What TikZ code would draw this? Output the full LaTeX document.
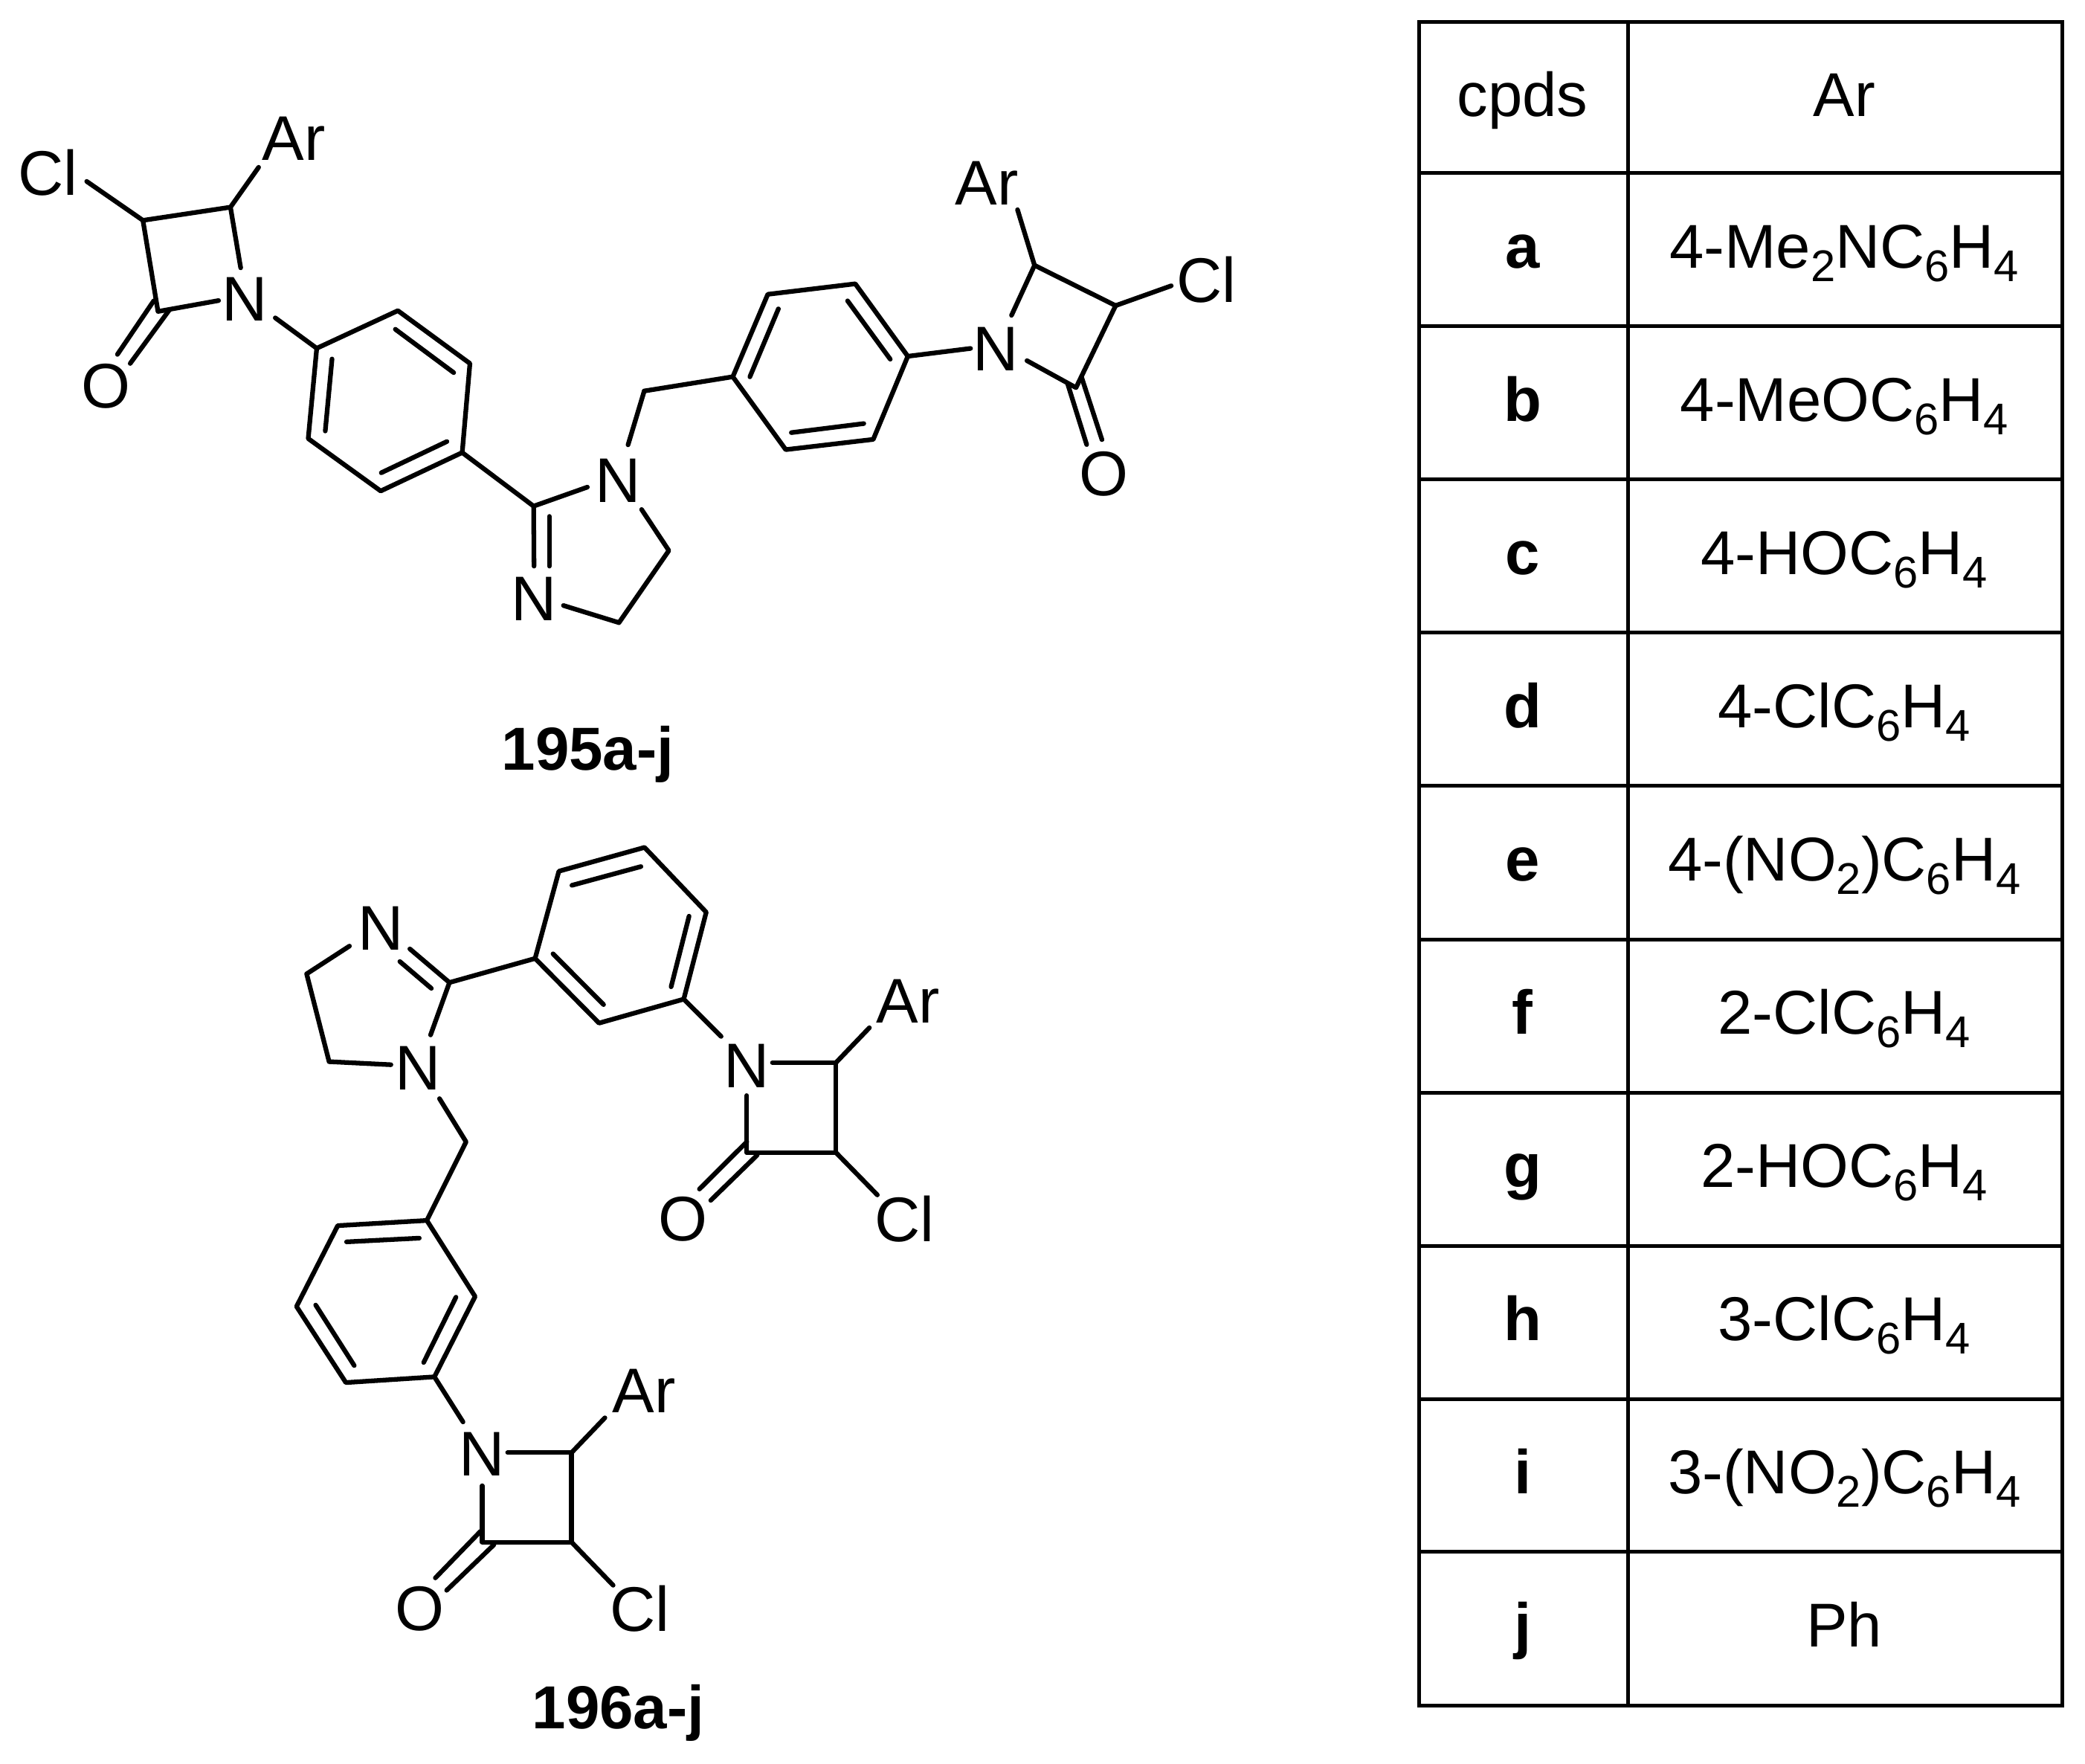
\documentclass[tikz,border=0pt]{standalone}
\usepackage{fontspec}
\setmainfont{Liberation Sans}
\tikzset{
  bond/.style={line width=2pt,line cap=round,line join=round},
  atom/.style={inner sep=0pt,font=\fontsize{27}{30}\selectfont},
  cmpd/.style={inner sep=0pt,anchor=base,font=\fontsize{26}{30}\selectfont\bfseries},
  rule/.style={line width=1.6pt,line cap=rect},
  cell/.style={inner sep=0pt,anchor=base,font=\fontsize{26.5}{30}\selectfont},
  lett/.style={cell,font=\fontsize{26.5}{30}\selectfont\bfseries},
}
\newcommand{\subdig}[1]{\raisebox{-5.7pt}{\fontsize{19}{20}\selectfont #1}}
\begin{document}
\begin{tikzpicture}[x=0.02cm,y=-0.02cm]
\path[fill=white,use as bounding box] (0,0) rectangle (1568,1325.9);
% ---------- 195, left lactam
\node[atom] (aCl) at (36,130) {Cl};
\node[atom] (aAr) at (221,104) {Ar};
\node[atom] (aN) at (184,224.8) {N};
\node[atom] (aO) at (79.6,290.4) {O};
\coordinate (a3) at (107.5,165.7);
\coordinate (a4) at (173.3,155.8);
\coordinate (a2) at (118.8,234.2);
\coordinate (aCle) at (65.2,136.4);
\coordinate (aAre) at (194.5,125.8);
\coordinate (aN4) at (181,201.4);
\coordinate (aN2) at (164.4,226);
\coordinate (aO1s) at (115.6,226.2);
\coordinate (aO1e) at (88.3,266.5);
\coordinate (aO2s) at (127.1,233.4);
\coordinate (aO2e) at (97.9,273.3);
\coordinate (aNb) at (207,239);
\draw[bond] (aCle) -- (a3) -- (a4) -- (aAre);
\draw[bond] (a4) -- (aN4);
\draw[bond] (a3) -- (a2) -- (aN2);
\draw[bond] (aO1s) -- (aO1e);
\draw[bond] (aO2s) -- (aO2e);
% ring A
\coordinate (r1) at (238.2,261.9);
\coordinate (r2) at (299.2,233.6);
\coordinate (r3) at (353.4,273.3);
\coordinate (r4) at (347.6,340.3);
\coordinate (r5) at (286.3,369.2);
\coordinate (r6) at (231.8,329.8);
\coordinate (r2i) at (297.3,247.6);
\coordinate (r3i) at (341.2,280.2);
\coordinate (r4i) at (336.1,332);
\coordinate (r5i) at (286.7,355.5);
\coordinate (r1i) at (249.7,269.9);
\coordinate (r6i) at (244.6,324.1);
\draw[bond] (aNb) -- (r1);
\draw[bond] (r1) -- (r2) -- (r3) -- (r4) -- (r5) -- (r6) -- cycle;
\draw[bond] (r2i) -- (r3i);
\draw[bond] (r4i) -- (r5i);
\draw[bond] (r1i) -- (r6i);
% imidazoline
\node[atom] (iN1) at (464.5,361.2) {N};
\node[atom] (iN3) at (401.3,450.2) {N};
\coordinate (i2) at (401.3,380.6);
\coordinate (i4) at (465.5,468.2);
\coordinate (i5) at (503,414);
\coordinate (iN1a) at (441.7,366.3);
\coordinate (iN1b) at (482.5,383.1);
\coordinate (iN1c) at (472.3,334.5);
\coordinate (iN3a) at (401.6,425.7);
\coordinate (i2b) at (413.1,388.3);
\coordinate (iN3b) at (413.1,425.7);
\coordinate (iN3c) at (423.7,455.3);
\coordinate (ich) at (484.5,294);
\draw[bond] (r4) -- (i2) -- (iN1a);
\draw[bond] (i2) -- (iN3a);
\draw[bond] (i2b) -- (iN3b);
\draw[bond] (iN3c) -- (i4) -- (i5) -- (iN1b);
\draw[bond] (iN1c) -- (ich);
% ring B
\coordinate (s1) at (551.1,283.3);
\coordinate (s2) at (577.4,221.3);
\coordinate (s3) at (643.2,213.4);
\coordinate (s4) at (682.7,267.9);
\coordinate (s5) at (656.7,330.4);
\coordinate (s6) at (590.9,338.1);
\coordinate (s2i) at (585.4,232.2);
\coordinate (s1i) at (563.9,283.4);
\coordinate (s3i) at (637.4,226.2);
\coordinate (s4i) at (669.5,270.1);
\coordinate (s5i) at (649.6,318.5);
\coordinate (s6i) at (595.1,325.3);
\draw[bond] (ich) -- (s1);
\draw[bond] (s1) -- (s2) -- (s3) -- (s4) -- (s5) -- (s6) -- cycle;
\draw[bond] (s2i) -- (s1i);
\draw[bond] (s3i) -- (s4i);
\draw[bond] (s5i) -- (s6i);
% right lactam
\node[atom] (bN) at (749.1,262.2) {N};
\node[atom] (bCl) at (907.1,210.2) {Cl};
\node[atom] (bAr) at (742.1,137.8) {Ar};
\node[atom] (bO) at (830,356.1) {O};
\coordinate (b4) at (778,199.5);
\coordinate (b3) at (839,229.8);
\coordinate (b2) at (809.2,291.5);
\coordinate (bNa) at (729.9,262);
\coordinate (bN4) at (760.7,237.1);
\coordinate (bN2) at (772.3,271.2);
\coordinate (bCle) at (880.8,214.9);
\coordinate (bAre) at (765.2,157.7);
\coordinate (bO1s) at (802.8,288.3);
\coordinate (bO1e) at (817.2,334.3);
\coordinate (bO2s) at (813.3,283.4);
\coordinate (bO2e) at (828.7,330.6);
\draw[bond] (s4) -- (bNa);
\draw[bond] (bN4) -- (b4) -- (b3) -- (b2) -- (bN2);
\draw[bond] (b4) -- (bAre);
\draw[bond] (b3) -- (bCle);
\draw[bond] (bO1s) -- (bO1e);
\draw[bond] (bO2s) -- (bO2e);
\node[cmpd] (l195) at (442,579) {195a-j};
% ---------- 196, imidazoline
\node[atom] (jN1) at (314.3,803.4) {N};
\node[atom] (jN3) at (286.2,698.2) {N};
\coordinate (j2) at (338,738.8);
\coordinate (j5) at (230.6,732.3);
\coordinate (j4) at (247.5,798.3);
\coordinate (jN3a) at (262.8,711.4);
\coordinate (jN1a) at (294,800.6);
\coordinate (jN3b) at (308.2,713.5);
\coordinate (jN3c) at (300.7,723);
\coordinate (j2c) at (324.4,743.2);
\coordinate (jN1b) at (323.8,778.2);
\coordinate (jN1c) at (330.5,826.1);
\coordinate (jch) at (350.5,858.6);
\draw[bond] (jN3a) -- (j5) -- (j4) -- (jN1a);
\draw[bond] (jN3b) -- (j2) -- (jN1b);
\draw[bond] (jN3c) -- (j2c);
% ring C
\coordinate (c1) at (402.4,720.7);
\coordinate (c2) at (420.3,655.1);
\coordinate (c3) at (484.7,637.2);
\coordinate (c4) at (531.1,685.9);
\coordinate (c5) at (514.2,751.3);
\coordinate (c6) at (450.5,769.3);
\coordinate (c2i) at (430.1,665.7);
\coordinate (c3i) at (482,651.6);
\coordinate (c4i) at (518.2,688.9);
\coordinate (c5i) at (504.7,742);
\coordinate (c1i) at (415.9,717.2);
\coordinate (c6i) at (453.9,755.4);
\draw[bond] (j2) -- (c1);
\draw[bond] (c1) -- (c2) -- (c3) -- (c4) -- (c5) -- (c6) -- cycle;
\draw[bond] (c2i) -- (c3i);
\draw[bond] (c4i) -- (c5i);
\draw[bond] (c1i) -- (c6i);
% upper lactam of 196
\node[atom] (eN) at (561.6,801.3) {N};
\node[atom] (eAr) at (682.9,753.1) {Ar};
\node[atom] (eCl) at (680.2,916.5) {Cl};
\node[atom] (eO) at (513.5,916.5) {O};
\coordinate (e4) at (628.7,799);
\coordinate (e3) at (628.7,866.7);
\coordinate (e2) at (561.6,866.7);
\coordinate (eNa) at (542.3,779.3);
\coordinate (eN4) at (580.9,799);
\coordinate (eN2) at (561.6,823.8);
\coordinate (eAre) at (653.8,772.8);
\coordinate (eCle) at (659.8,898.5);
\coordinate (eO1s) at (561.6,858.6);
\coordinate (eO1e) at (526,894.1);
\coordinate (eO2s) at (569.4,868.6);
\coordinate (eO2e) at (534.5,902.6);
\draw[bond] (c5) -- (eNa);
\draw[bond] (eN4) -- (e4) -- (e3) -- (e2) -- (eN2);
\draw[bond] (e4) -- (eAre);
\draw[bond] (e3) -- (eCle);
\draw[bond] (eO1s) -- (eO1e);
\draw[bond] (eO2s) -- (eO2e);
% ring D
\coordinate (d1) at (321,917.7);
\coordinate (d2) at (254,921.6);
\coordinate (d3) at (223,982.4);
\coordinate (d4) at (260.1,1039.6);
\coordinate (d5) at (326.7,1035.3);
\coordinate (d6) at (357.3,974.9);
\coordinate (d2i) at (260.6,933.8);
\coordinate (d1i) at (315.3,931);
\coordinate (d6i) at (342.9,975.4);
\coordinate (d5i) at (318.6,1024.5);
\coordinate (d3i) at (237.4,981.3);
\coordinate (d4i) at (266.4,1026.8);
\draw[bond] (jN1c) -- (jch) -- (d1);
\draw[bond] (d1) -- (d2) -- (d3) -- (d4) -- (d5) -- (d6) -- cycle;
\draw[bond] (d2i) -- (d1i);
\draw[bond] (d6i) -- (d5i);
\draw[bond] (d3i) -- (d4i);
% lower lactam of 196
\node[atom] (fN) at (362.6,1093.6) {N};
\node[atom] (fAr) at (484.3,1046) {Ar};
\node[atom] (fCl) at (481.3,1209.9) {Cl};
\node[atom] (fO) at (315.5,1209.9) {O};
\coordinate (f4) at (429.8,1092.3);
\coordinate (f3) at (429.8,1159.6);
\coordinate (f2) at (362.6,1159.6);
\coordinate (fNa) at (348.2,1069.2);
\coordinate (fN4) at (381.8,1092.3);
\coordinate (fN2) at (362.6,1117.2);
\coordinate (fAre) at (454.9,1066.1);
\coordinate (fCle) at (461.1,1192);
\coordinate (fO1s) at (361.4,1151.4);
\coordinate (fO1e) at (327.4,1186.5);
\coordinate (fO2s) at (371.4,1161.6);
\coordinate (fO2e) at (335.9,1195.8);
\draw[bond] (d5) -- (fNa);
\draw[bond] (fN4) -- (f4) -- (f3) -- (f2) -- (fN2);
\draw[bond] (f4) -- (fAre);
\draw[bond] (f3) -- (fCle);
\draw[bond] (fO1s) -- (fO1e);
\draw[bond] (fO2s) -- (fO2e);
\node[cmpd] (l196) at (465,1300) {196a-j};
% ---------- table
\coordinate (tl) at (1067.2,16.5);
\coordinate (tr) at (1550.7,16.5);
\coordinate (bl) at (1067.2,1282.5);
\coordinate (br) at (1550.7,1282.5);
\coordinate (tm) at (1224.4,16.5);
\coordinate (bm) at (1224.4,1282.5);
\draw[rule] (tl) -- (tr) -- (br) -- (bl) -- cycle;
\draw[rule] (tm) -- (bm);
\foreach \y in {130.2,245.3,360.6,475.7,590.8,706.3,821.6,936.8,1052,1166.8}
  \draw[rule] (1067.2,\y) -- (1550.7,\y);
\node[cell] (h1) at (1145,87.5) {cpds};
\node[cell] (h2) at (1387,87.5) {Ar};
\node[lett] (ra) at (1145,201.8) {a};
\node[cell] (va) at (1387,201.8) {4-Me\subdig{2}NC\subdig{6}H\subdig{4}};
\node[lett] (rb) at (1145,317) {b};
\node[cell] (vb) at (1387,317) {4-MeOC\subdig{6}H\subdig{4}};
\node[lett] (rc) at (1145,432) {c};
\node[cell] (vc) at (1387,432) {4-HOC\subdig{6}H\subdig{4}};
\node[lett] (rd) at (1145,547) {d};
\node[cell] (vd) at (1387,547) {4-ClC\subdig{6}H\subdig{4}};
\node[lett] (re) at (1145,662.5) {e};
\node[cell] (ve) at (1387,662.5) {4-(NO\subdig{2})C\subdig{6}H\subdig{4}};
\node[lett] (rf) at (1145,777.8) {f};
\node[cell] (vf) at (1387,777.8) {2-ClC\subdig{6}H\subdig{4}};
\node[lett] (rg) at (1145,893) {g};
\node[cell] (vg) at (1387,893) {2-HOC\subdig{6}H\subdig{4}};
\node[lett] (rh) at (1145,1008) {h};
\node[cell] (vh) at (1387,1008) {3-ClC\subdig{6}H\subdig{4}};
\node[lett] (ri) at (1145,1123) {i};
\node[cell] (vi) at (1387,1123) {3-(NO\subdig{2})C\subdig{6}H\subdig{4}};
\node[lett] (rj) at (1145,1238.5) {j};
\node[cell] (vj) at (1387,1238.5) {Ph};
\end{tikzpicture}
\end{document}
